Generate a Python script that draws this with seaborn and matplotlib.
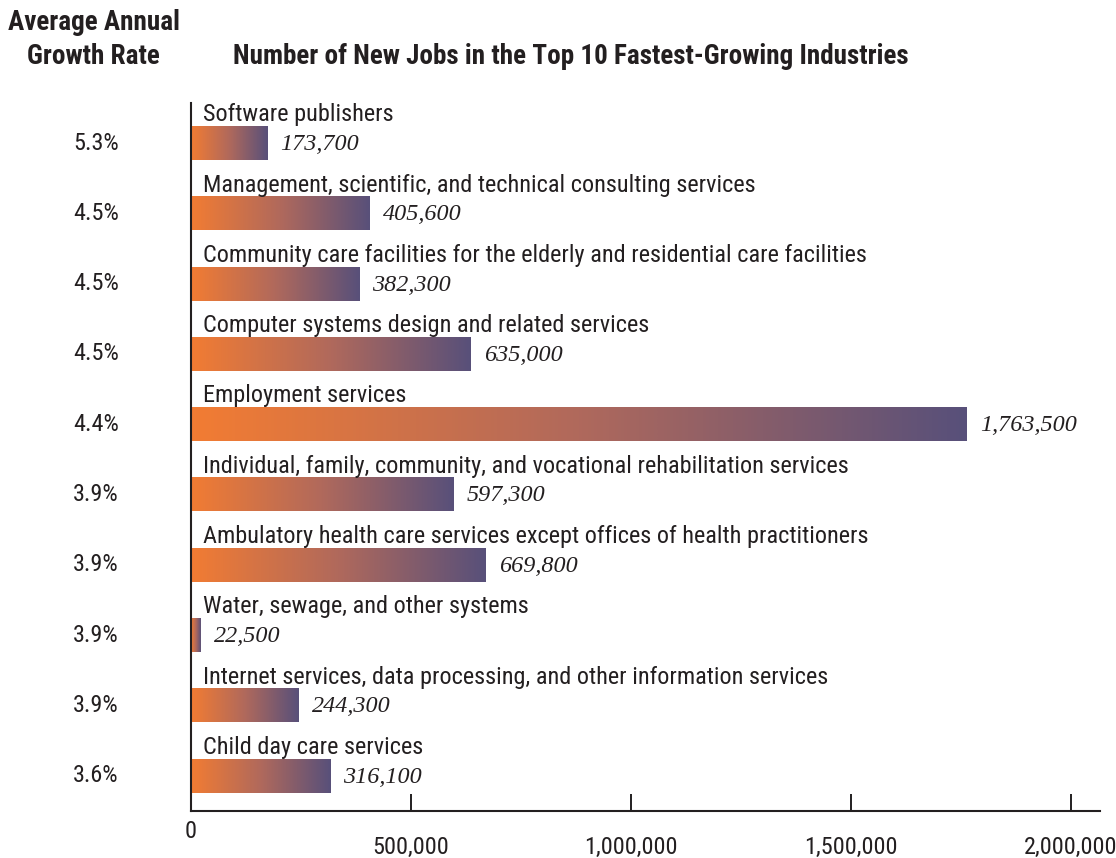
import numpy as np
import pandas as pd
import matplotlib
matplotlib.use("Agg")
import matplotlib.pyplot as plt
import seaborn as sns
from matplotlib.colors import LinearSegmentedColormap
from matplotlib import font_manager

industries = [
    "Software publishers",
    "Management, scientific, and technical consulting services",
    "Community care facilities for the elderly and residential care facilities",
    "Computer systems design and related services",
    "Employment services",
    "Individual, family, community, and vocational rehabilitation services",
    "Ambulatory health care services except offices of health practitioners",
    "Water, sewage, and other systems",
    "Internet services, data processing, and other information services",
    "Child day care services",
]
new_jobs = [173700, 405600, 382300, 635000, 1763500, 597300, 669800, 22500, 244300, 316100]
growth_rates = ["5.3%", "4.5%", "4.5%", "4.5%", "4.4%", "3.9%", "3.9%", "3.9%", "3.9%", "3.6%"]
x_ticks = [0, 500000, 1000000, 1500000, 2000000]
x_tick_labels = ["0", "500,000", "1,000,000", "1,500,000", "2,000,000"]

sns.set_style("white")
names = {f.name for f in font_manager.fontManager.ttflist}
cond = [f for f in ["Liberation Sans Narrow", "Roboto Condensed", "Liberation Sans"] if f in names] + ["DejaVu Sans"]
plt.rcParams["font.family"] = cond
serif = ["Liberation Serif", "DejaVu Serif"]
INK = "#231f20"

df = pd.DataFrame({"industry": industries, "jobs": new_jobs})

fig = plt.figure(figsize=(11.16, 8.58), dpi=100)
ax = fig.add_axes([0.1711, 0.0548, 0.8142, 0.8252])
sns.barplot(data=df, y="industry", x="jobs", orient="h", ax=ax, width=0.48,
            color="#F07A32", saturation=1)

cmap = LinearSegmentedColormap.from_list("og", ["#F27C33", "#B0695C", "#58507A"])
grad = np.linspace(0, 1, 256).reshape(1, -1)
for p in ax.patches:
    x0, y0 = p.get_x(), p.get_y()
    w, h = p.get_width(), p.get_height()
    p.set_visible(False)
    ax.imshow(grad, cmap=cmap, aspect="auto", extent=(x0, x0 + w, y0 + h, y0),
              interpolation="bicubic", zorder=2)
ax.set_xlim(0, 2065000)
ax.set_ylim(9.5, -0.57)

for i, (name, val, gr) in enumerate(zip(industries, new_jobs, growth_rates)):
    ax.text(27000, i - 0.31, name, ha="left", va="baseline", fontsize=17.5, color=INK)
    ax.text(val + 30000, i + 0.02, f"{val:,}", ha="left", va="center", fontsize=17.4,
            family=serif, style="italic", color=INK)
    ax.text(-216000, i, gr, ha="center", va="center", fontsize=17.5, color=INK)

ax.set_yticks([])
ax.set_ylabel("")
ax.set_xlabel("")
ax.set_xticks(x_ticks)
ax.set_xticklabels([""] + x_tick_labels[1:], fontsize=17.5, color=INK)
ax.tick_params(axis="x", bottom=True, direction="in", length=12, width=1.4, pad=18,
               colors=INK, labelcolor=INK)
ax.text(0, -0.029, x_tick_labels[0], transform=ax.get_xaxis_transform(), ha="center",
        va="center", fontsize=17.5, color=INK)

for s in ["top", "right"]:
    ax.spines[s].set_visible(False)
for s in ["left", "bottom"]:
    ax.spines[s].set_color(INK)
    ax.spines[s].set_linewidth(1.5)

fig.text(0.084, 0.974, "Average Annual", ha="center", va="center", fontsize=19.5,
         fontweight="bold", color=INK)
fig.text(0.084, 0.934, "Growth Rate", ha="center", va="center", fontsize=19.5,
         fontweight="bold", color=INK)
fig.text(0.209, 0.934, "Number of New Jobs in the Top 10 Fastest-Growing Industries",
         ha="left", va="center", fontsize=19.5, fontweight="bold", color=INK)

fig.savefig("out.png", dpi=100)
